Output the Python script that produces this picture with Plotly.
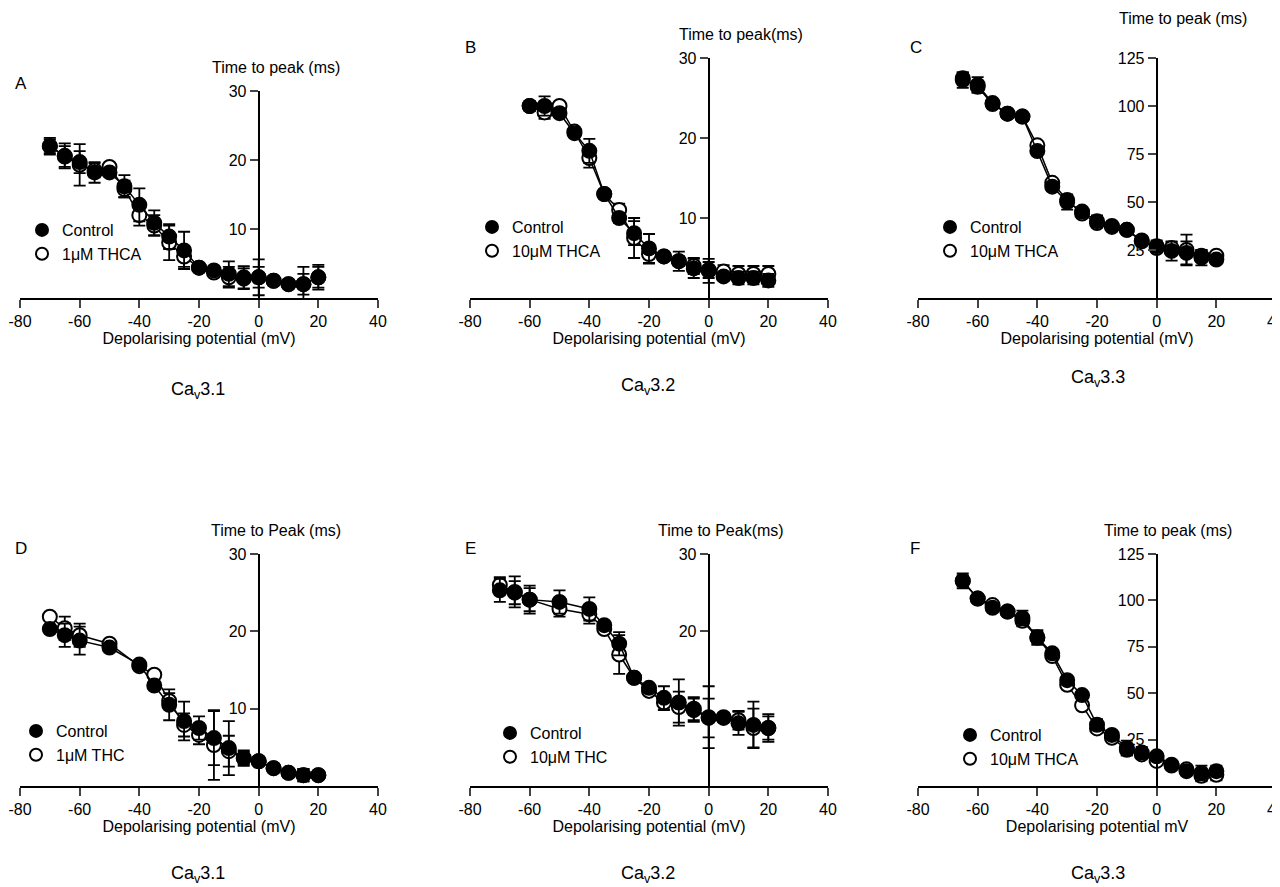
import plotly.graph_objects as go

# ---------- data ----------
xA = [-70,-65,-60,-55,-50,-45,-40,-35,-30,-25,-20,-15,-10,-5,0,5,10,15,20]
A_ctrl = [22,20.6,19.7,18.2,18.2,16.2,13.5,10.9,8.9,6.9,4.4,4.0,3.5,3.0,3.0,2.5,2.0,2.0,3.0]
A_ctrl_err = [1.2,1.8,1.6,1.5,0.5,1.6,2.4,1.8,1.8,2.7,0.4,0.4,1.8,1.6,2.6,0.3,0.4,2.5,1.8]
A_trt = [22,20.5,19.3,18.5,19.0,15.8,12.0,10.5,8.0,6.0,4.4,3.7,3.0,2.8,3.0,2.5,2.0,2.0,3.0]
A_trt_err = [1.0,1.5,3.0,1.0,0.5,1.2,1.5,1.5,2.5,1.5,0.4,0.4,1.5,1.5,1.5,0.3,0.4,1.5,1.5]

xB = [-60,-55,-50,-45,-40,-35,-30,-25,-20,-15,-10,-5,0,5,10,15,20]
B_ctrl = [24,24,23.1,20.6,18.4,13,10,8.1,6.2,5.2,4.6,3.7,3.4,2.7,2.5,2.5,2.2]
B_ctrl_err = [0.6,1.2,0.5,0.5,1.5,0.5,0.6,1.5,1.8,0.5,0.6,1.2,1.5,0.4,0.8,0.8,0.8]
B_trt = [24,23.2,24,20.8,17.5,13,11,7.5,5.5,5.2,4.6,4.0,3.5,3.3,3.0,3.0,3.0]
B_trt_err = [0.5,0.8,0.4,0.5,1.2,0.5,0.8,2.5,1.2,0.5,1.2,1.0,1.0,0.8,1.0,1.0,1.0]

xC = [-65,-60,-55,-50,-45,-40,-35,-30,-25,-20,-15,-10,-5,0,5,10,15,20]
C_ctrl = [113.5,111,101.5,96,94.5,76.5,58,50,45,40,37.5,35.5,30,27,24.5,23.5,21,20]
C_ctrl_err = [4,4,1,1,1,1.5,2,4,2,3,1,1,1.5,3,5,6,4,2]
C_trt = [114.5,110,101,96,94.5,79.5,60,51,44,39,37,35.5,29.5,26,26,25,22,22]
C_trt_err = [3,3,1,1,1,1,1.5,2,1.5,2,1,1,1,1.5,3,8,3,2]

xD = [-70,-65,-60,-50,-40,-35,-30,-25,-20,-15,-10,-5,0,5,10,15,20]
D_ctrl = [20.3,19.5,18.8,17.9,15.7,13,10.5,8.4,7.5,6.2,4.9,3.6,3.2,2.3,1.7,1.4,1.4]
D_ctrl_err = [0.5,1.5,1.8,0.5,0.5,0.5,2.0,2.5,1.5,3.5,3.5,1.0,0.5,0.3,0.3,0.8,0.3]
D_trt = [21.9,20.4,19.5,18.4,15.5,14.4,11,7.9,6.6,5.3,4.5,3.6,3.2,2.3,1.7,1.4,1.4]
D_trt_err = [0.5,1.5,1.5,0.5,0.5,0.5,1.0,1.5,1.2,4.5,2.0,0.8,0.5,0.3,0.3,0.8,0.3]

xE = [-70,-65,-60,-50,-40,-35,-30,-25,-20,-15,-10,-5,0,5,10,15,20]
E_ctrl = [25.3,25.1,24.1,23.8,22.9,20.8,18.4,14,12.7,11.4,10.8,10,8.9,8.9,8.1,7.9,7.5]
E_ctrl_err = [1.5,2.0,1.8,1.5,1.5,0.5,1.5,0.5,0.5,1.5,3.0,1.5,4.0,0.5,1.5,3.0,1.8]
E_trt = [26,25,24.1,22.9,22.2,20.3,17,14,12.3,10.8,10.2,9.8,8.8,8.8,8.5,7.5,7.5]
E_trt_err = [1.0,1.5,1.5,1.0,1.2,0.5,2.5,0.5,0.5,1.0,2.0,1.5,2.5,0.5,1.2,2.5,1.5]

xF = [-65,-60,-55,-50,-45,-40,-35,-30,-25,-20,-15,-10,-5,0,5,10,15,20]
F_ctrl = [110.5,101,96,94,90.5,80,71.5,57,49,33,27.5,20.5,18,16,11.5,8,7,8]
F_ctrl_err = [4,1,1,1,4,4,1,2,1,3,1,4,3,1,1,2,4,3]
F_trt = [110.5,101,97.5,94,89,80,70,54.5,43.5,31,26,19.5,17,13.5,11,9,5.5,6]
F_trt_err = [3,1,1,1,3,3,1,1.5,1,2,1,3,2,1,1,2,3,3]

panel_letters = ["A","B","C","D","E","F"]
ytitles = ["Time to peak (ms)","Time to peak(ms)","Time to peak (ms)",
           "Time to Peak (ms)","Time to Peak(ms)","Time to peak (ms)"]
xtitles = ["Depolarising potential (mV)"]*5 + ["Depolarising potential mV"]
subtitles = ["Ca<sub>v</sub>3.1","Ca<sub>v</sub>3.2","Ca<sub>v</sub>3.3",
             "Ca<sub>v</sub>3.1","Ca<sub>v</sub>3.2","Ca<sub>v</sub>3.3"]
trt_names = ["1μM THCA","10μM THCA","10μM THCA","1μM THC","10μM THC","10μM THCA"]
xticks = [-80,-60,-40,-20,0,20,40]
xticklabels = ["-80","-60","-40","-20","0","20","40"]
yticks_list = [[10,20,30],[10,20,30],[25,50,75,100,125],
               [10,20,30],[20,30],[25,50,75,100,125]]
ymax = [30,30,125,30,30,125]

series = [(xA,A_ctrl,A_ctrl_err,A_trt,A_trt_err),
          (xB,B_ctrl,B_ctrl_err,B_trt,B_trt_err),
          (xC,C_ctrl,C_ctrl_err,C_trt,C_trt_err),
          (xD,D_ctrl,D_ctrl_err,D_trt,D_trt_err),
          (xE,E_ctrl,E_ctrl_err,E_trt,E_trt_err),
          (xF,F_ctrl,F_ctrl_err,F_trt,F_trt_err)]

# ---------- layout geometry (pixels) ----------
W, H = 1280, 887
xpix = [(12,370),(462,820),(910,1268)]*2
ypix = [(290,83),(290,50),(290,50),(778,546),(778,546),(778,546)]
legpix = [(14,205),(464,202),(922,202),(8,706),(482,708),(942,710)]
letterpix = [(5,75),(455,40),(900,40),(5,540),(455,540),(900,540)]
ytitlepix = [(268,60),(733,27),(1175,10),(268,522),(713,522),(1160,522)]
subpix = [(190,382),(640,378),(1090,370),(190,866),(640,866),(1090,866)]

font = "Liberation Sans, Arial, sans-serif"
fig = go.Figure()
ann = []
layout = {}
for i in range(6):
    k = "" if i == 0 else str(i+1)
    x, c, ce, t, te = series[i]
    lg = "legend" + k
    for vals, err, fill, name in [(t, te, "white", trt_names[i]), (c, ce, "black", "Control")]:
        fig.add_trace(go.Scatter(
            x=x, y=vals, mode="lines+markers", name=name, showlegend=False,
            xaxis="x"+k, yaxis="y"+k, cliponaxis=False,
            line=dict(color="black", width=1.5),
            marker=dict(size=14, color=fill, line=dict(color="black", width=2)),
            error_y=dict(type="data", array=err, color="black", thickness=1.8, width=6)))
    for fill, name in [("black", "Control"), ("white", trt_names[i])]:
        fig.add_trace(go.Scatter(
            x=[None], y=[None], mode="markers", name=name, legend=lg,
            xaxis="x"+k, yaxis="y"+k,
            marker=dict(size=14, color=fill, line=dict(color="black", width=2))))
    x0, x1 = xpix[i][0]/W, xpix[i][1]/W
    yb, yt = 1-ypix[i][0]/H, 1-ypix[i][1]/H
    layout["xaxis"+k] = dict(domain=[x0,x1], range=[-80,40], anchor="y"+k,
        tickvals=xticks, ticktext=xticklabels, ticks="outside", ticklen=8,
        tickwidth=2, showline=True, linewidth=2, linecolor="black",
        showgrid=False, zeroline=False, automargin=False,
        title=dict(text=xtitles[i], font=dict(size=16), standoff=4),
        tickfont=dict(size=16))
    layout["yaxis"+k] = dict(domain=[yb,yt], range=[0,ymax[i]], anchor="free",
        position=x0+(x1-x0)*2/3, tickvals=yticks_list[i], ticks="outside",
        ticklen=8, tickwidth=2, showline=True, linewidth=2, linecolor="black",
        showgrid=False, zeroline=False, automargin=False, tickfont=dict(size=16))
    layout[lg] = dict(x=legpix[i][0]/W, y=1-legpix[i][1]/H, xanchor="left",
        yanchor="top", bgcolor="rgba(0,0,0,0)", font=dict(size=16),
        itemsizing="constant", tracegroupgap=0)
    ann.append(dict(x=ytitlepix[i][0]/W, y=1-ytitlepix[i][1]/H, xref="paper", yref="paper",
        text=ytitles[i], showarrow=False, font=dict(size=16), xanchor="center", yanchor="middle"))
    ann.append(dict(x=letterpix[i][0]/W, y=1-letterpix[i][1]/H,
        xref="paper", yref="paper", text=panel_letters[i], showarrow=False,
        font=dict(size=17), xanchor="left", yanchor="middle"))
    ann.append(dict(x=subpix[i][0]/W, y=1-subpix[i][1]/H, xref="paper", yref="paper",
        text=subtitles[i], showarrow=False, font=dict(size=18), xanchor="center",
        yanchor="middle"))

fig.update_layout(width=W, height=H, margin=dict(l=0,r=0,t=0,b=0, autoexpand=False),
    paper_bgcolor="white", plot_bgcolor="white",
    font=dict(family=font, color="black", size=16), annotations=ann, **layout)
fig.write_html("out.html")
